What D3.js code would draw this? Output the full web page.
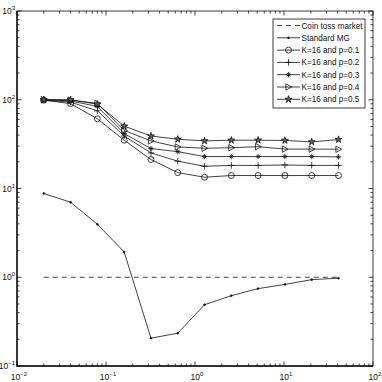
<!DOCTYPE html>
<html>
<head>
<meta charset="utf-8">
<script src="https://cdn.jsdelivr.net/npm/d3@7"></script>
<style>
  body { margin: 0; background: #fff; }
  svg { display: block; font-family: "Liberation Sans", Arial, sans-serif; }
</style>
</head>
<body>
<div id="chart"></div>
<script>
// x values (shared by every series)
const xValues = [0.02, 0.04, 0.08, 0.16, 0.32, 0.64, 1.28, 2.56, 5.12, 10.24, 20.48, 40.96];

// series
const coinToss = [1, 1, 1, 1, 1, 1, 1, 1, 1, 1, 1, 1];
const standardMG = [8.8, 7.0, 3.95, 1.93, 0.206, 0.234, 0.49, 0.62, 0.745, 0.83, 0.94, 0.975];
const p01 = [99, 90.5, 61, 35, 21.2, 15.1, 13.4, 14.0, 14.0, 14.0, 14.0, 14.0];
const p02 = [99, 94, 75, 39, 25.2, 20.3, 17.8, 18.2, 18.2, 18.4, 18.2, 18.2];
const p03 = [100, 97, 84, 41.6, 28.2, 26.0, 22.9, 22.9, 22.9, 22.9, 22.9, 22.7];
const p04 = [100, 99, 91, 45, 34.4, 29.4, 28.4, 28.8, 29.6, 27.8, 27.8, 27.7];
const p05 = [100, 100, 89, 50.5, 39, 35.9, 34.4, 35, 35, 34.8, 33.5, 35.6];

const legendLabels = ['Coin toss market', 'Standard MG', 'K=16 and p=0.1', 'K=16 and p=0.2',
  'K=16 and p=0.3', 'K=16 and p=0.4', 'K=16 and p=0.5'];
const xTickExps = [-2, -1, 0, 1, 2];
const yTickExps = [-1, 0, 1, 2, 3];

const W = 382, H = 382;
const pL = 17, pR = 373, pT = 11, pB = 366;
const ink = '#111';

const svg = d3.select('#chart').append('svg')
  .attr('width', W)
  .attr('height', H);

const x = d3.scaleLog().domain([1e-2, 1e2]).range([pL, pR]);
const y = d3.scaleLog().domain([1e-1, 1e3]).range([pB, pT]);

// markers, drawn around 0,0
const markers = {
  none: () => '',
  dot: () => d3.symbol(d3.symbolCircle, 2.5)(),
  circle: () => d3.symbol(d3.symbolCircle, 28)(),
  plus: () => 'M-3.2,0H3.2M0,-3.2V3.2',
  asterisk: () => 'M-2.6,0H2.6M0,-2.6V2.6M-1.8,-1.8L1.8,1.8M-1.8,1.8L1.8,-1.8',
  triangle: () => 'M3.2,0L-2.6,-3.2L-2.6,3.2Z',
  star: () => d3.symbol(d3.symbolStar, 15)(),
};

const series = [
  { values: coinToss, marker: 'none', dash: '5,4' },
  { values: standardMG, marker: 'dot', fillMarker: true },
  { values: p01, marker: 'circle' },
  { values: p02, marker: 'plus' },
  { values: p03, marker: 'asterisk' },
  { values: p04, marker: 'triangle' },
  { values: p05, marker: 'star', fillMarker: '#666' },
];

// ticks (inward, on all four sides)
const minorX = [];
const minorY = [];
for (let e = -2; e < 2; e++) for (let k = 2; k <= 9; k++) minorX.push(k * Math.pow(10, e));
for (let e = -1; e < 3; e++) for (let k = 2; k <= 9; k++) minorY.push(k * Math.pow(10, e));

const tickG = svg.append('g').attr('stroke', ink).attr('stroke-width', 0.8);
minorX.forEach(v => {
  tickG.append('line').attr('x1', x(v)).attr('x2', x(v)).attr('y1', pB).attr('y2', pB - 2.5);
  tickG.append('line').attr('x1', x(v)).attr('x2', x(v)).attr('y1', pT).attr('y2', pT + 2.5);
});
xTickExps.forEach(e => {
  const v = Math.pow(10, e);
  tickG.append('line').attr('x1', x(v)).attr('x2', x(v)).attr('y1', pB).attr('y2', pB - 4.5);
  tickG.append('line').attr('x1', x(v)).attr('x2', x(v)).attr('y1', pT).attr('y2', pT + 4.5);
});
minorY.forEach(v => {
  tickG.append('line').attr('x1', pL).attr('x2', pL + 2.5).attr('y1', y(v)).attr('y2', y(v));
  tickG.append('line').attr('x1', pR).attr('x2', pR - 2.5).attr('y1', y(v)).attr('y2', y(v));
});
yTickExps.forEach(e => {
  const v = Math.pow(10, e);
  tickG.append('line').attr('x1', pL).attr('x2', pL + 4.5).attr('y1', y(v)).attr('y2', y(v));
  tickG.append('line').attr('x1', pR).attr('x2', pR - 4.5).attr('y1', y(v)).attr('y2', y(v));
});

// box
svg.append('rect')
  .attr('x', pL).attr('y', pT)
  .attr('width', pR - pL).attr('height', pB - pT)
  .attr('fill', 'none').attr('stroke', ink).attr('stroke-width', 0.8);
svg.append('path')
  .attr('d', `M${pL},${pT}V${pB}H${pR}`)
  .attr('fill', 'none').attr('stroke', ink).attr('stroke-width', 1.4);

// tick labels
function powLabel(g, e, px, py, anchor) {
  const t = g.append('text')
    .attr('x', px).attr('y', py)
    .attr('text-anchor', anchor)
    .attr('font-size', 8.5)
    .attr('fill', ink);
  t.append('tspan').text('10');
  t.append('tspan').attr('dy', -4).attr('font-size', 6).text(String(e).replace('-', '\u2212'));
}
const labelG = svg.append('g');
xTickExps.forEach(e => powLabel(labelG, e, x(Math.pow(10, e)) + 2, 380, 'middle'));
yTickExps.forEach(e => powLabel(labelG, e, 15, y(Math.pow(10, e)) + 3, 'end'));

// lines
const line = d3.line()
  .x((d, i) => x(xValues[i]))
  .y(d => y(d));

const plot = svg.append('g');
series.forEach(s => {
  plot.append('path')
    .datum(s.values)
    .attr('d', line)
    .attr('fill', 'none')
    .attr('stroke', ink)
    .attr('stroke-width', 0.8)
    .attr('stroke-dasharray', s.dash || null);
  if (s.marker === 'none') return;
  plot.selectAll(null)
    .data(s.values)
    .join('path')
    .attr('transform', (d, i) => `translate(${x(xValues[i])},${y(d)})`)
    .attr('d', markers[s.marker])
    .attr('fill', s.fillMarker ? (s.fillMarker === true ? ink : s.fillMarker) : 'none')
    .attr('stroke', ink)
    .attr('stroke-width', 0.8);
});

// legend
const lg = svg.append('g');
const lgX = 273, lgY = 19, lgW = 92, lgH = 89, rowH = 12.3;
lg.append('rect')
  .attr('x', lgX).attr('y', lgY).attr('width', lgW).attr('height', lgH)
  .attr('fill', '#fff').attr('stroke', ink).attr('stroke-width', 0.8);
const texts = [];
series.forEach((s, i) => {
  const cy = lgY + 6.5 + i * rowH;
  lg.append('line')
    .attr('x1', lgX + 4).attr('x2', lgX + 27).attr('y1', cy).attr('y2', cy)
    .attr('stroke', ink).attr('stroke-width', 0.8)
    .attr('stroke-dasharray', s.dash || null);
  if (s.marker !== 'none') {
    lg.append('path')
      .attr('transform', `translate(${lgX + 15.5},${cy})`)
      .attr('d', markers[s.marker]())
      .attr('fill', s.fillMarker ? (s.fillMarker === true ? ink : s.fillMarker) : 'none')
      .attr('stroke', ink).attr('stroke-width', 0.8);
  }
  texts.push(lg.append('text')
    .attr('x', lgX + 28.5).attr('y', cy + 3)
    .attr('font-size', 8.6)
    .attr('fill', ink)
    .text(legendLabels[i]));
});
// squeeze the labels so the longest fits the box
const widest = d3.max(texts, t => t.node().getComputedTextLength());
const squeeze = Math.min(1, 61 / widest);
texts.forEach(t => {
  const w = t.node().getComputedTextLength();
  t.attr('textLength', w * squeeze).attr('lengthAdjust', 'spacingAndGlyphs');
});
</script>
</body>
</html>
